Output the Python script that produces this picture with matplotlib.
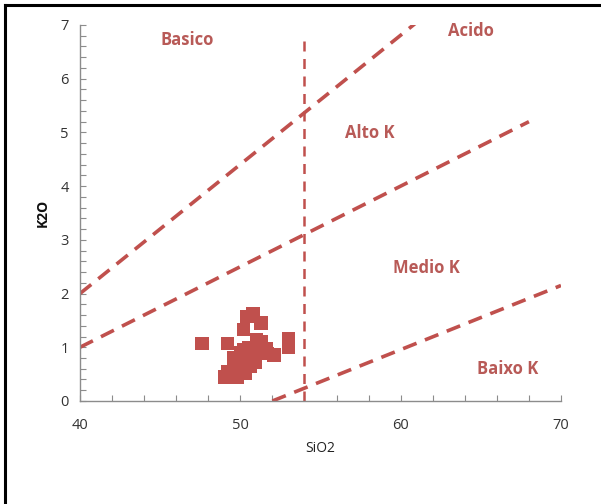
import matplotlib
matplotlib.use("Agg")
import matplotlib.pyplot as plt
from matplotlib.lines import Line2D
from matplotlib.ticker import MultipleLocator

# Sample data (SiO2 vs K2O)
sio2 = [47.6, 49.2, 53.0, 53.0, 50.8, 50.4, 51.3, 50.2, 51.0, 51.6, 52.1,
        50.4, 50.0, 49.6, 49.2, 49.0, 49.4, 50.6, 49.8, 50.8, 50.2, 49.9,
        49.6, 50.0, 50.5, 51.2, 50.9, 50.3, 49.8, 51.3, 51.7]
k2o = [1.07, 1.07, 1.15, 1.00, 1.63, 1.57, 1.45, 1.33, 1.14, 0.98, 0.86,
       0.83, 0.73, 0.64, 0.55, 0.45, 0.48, 0.64, 0.55, 0.83, 0.95, 0.70,
       0.80, 0.90, 1.00, 0.95, 0.72, 0.52, 0.44, 1.10, 0.88]

# Boundary lines
basic_acid_x = [40, 61]
basic_acid_y = [2.0, 7.05]
high_med_x = [40, 68]
high_med_y = [1.0, 5.2]
med_low_x = [52, 70]
med_low_y = [0.0, 2.15]
vert_x = [54, 54]
vert_y = [0.0, 6.8]

labels = ["Basico", "Acido", "Alto K", "Medio K", "Baixo K"]
label_x = [46.7, 64.4, 58.1, 61.6, 66.7]
label_y = [6.72, 6.89, 4.99, 2.48, 0.60]

red = "#C0504D"
txt_red = "#B85A57"
gray = "#8C8C8C"

plt.rcParams['font.family'] = ['Open Sans', 'DejaVu Sans']

fig = plt.figure(figsize=(6.01, 5.04), dpi=100)
ax = fig.add_axes([0.1331, 0.2044, 0.8003, 0.746])

ax.plot(basic_acid_x, basic_acid_y, color=red, lw=2.6, dashes=(4, 2.5))
ax.plot(high_med_x, high_med_y, color=red, lw=2.6, dashes=(4, 2.5))
ax.plot(med_low_x, med_low_y, color=red, lw=2.6, dashes=(4, 2.5))
ax.plot(vert_x, vert_y, color=red, lw=1.8, dashes=(4, 3))

ax.scatter(sio2, k2o, marker='s', s=95, color="#C0504D", edgecolors='none', zorder=3)

for t, x, y in zip(labels, label_x, label_y):
    ax.text(x, y, t, color=txt_red, fontsize=12, fontweight='bold', ha='center', va='center')

ax.set_xlim(40, 70)
ax.set_ylim(0, 7)
ax.xaxis.set_major_locator(MultipleLocator(10))
ax.xaxis.set_minor_locator(MultipleLocator(2))
ax.yaxis.set_major_locator(MultipleLocator(1))
ax.yaxis.set_minor_locator(MultipleLocator(0.2))

for s in ['top', 'right']:
    ax.spines[s].set_visible(False)
for s in ['left', 'bottom']:
    ax.spines[s].set_color(gray)
    ax.spines[s].set_linewidth(1.0)

ax.tick_params(which='both', direction='in', length=4, color=gray, width=0.8,
               labelsize=10.5, labelcolor='#333333', pad=8)
ax.tick_params(axis='x', pad=12)

ax.set_xlabel("SiO2", fontsize=10, color='#222222', labelpad=6)
ax.set_ylabel("K2O", fontsize=10, fontweight='bold', color='#111111', labelpad=8)

# screenshot frame (top and left edges)
fig.add_artist(Line2D([0.008, 1.0], [0.99, 0.99], transform=fig.transFigure, color='black', lw=2.2))
fig.add_artist(Line2D([0.0085, 0.0085], [0.0, 0.99], transform=fig.transFigure, color='black', lw=2.2))

fig.savefig("out.png", dpi=100, facecolor='white')
